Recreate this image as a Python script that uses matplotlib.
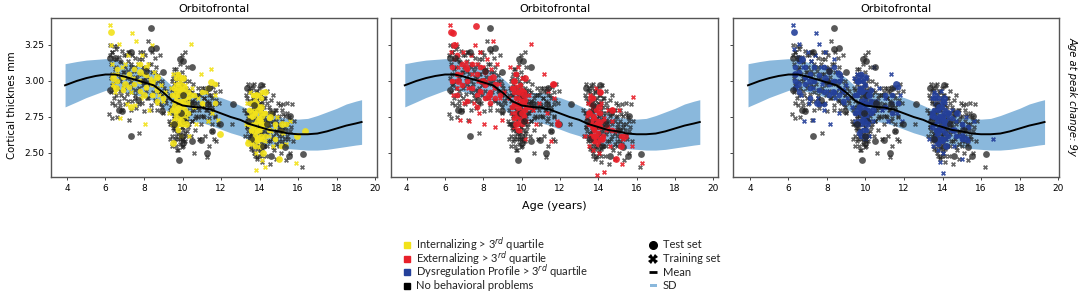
import matplotlib
matplotlib.use("Agg")
import matplotlib.pyplot as plt
from matplotlib.lines import Line2D
from matplotlib.patches import Rectangle

# normative curve
curve_age = [3.9, 4.5, 5, 5.5, 6, 6.5, 7, 7.5, 8, 8.5, 9, 9.5, 10, 10.5, 11, 11.5, 12, 12.5, 13, 13.5, 14, 14.5, 15, 15.5, 16, 16.5, 17, 17.5, 18, 18.5, 19, 19.3]
curve_mean = [2.97, 3.0, 3.02, 3.035, 3.045, 3.045, 3.03, 3.01, 2.99, 2.97, 2.92, 2.86, 2.83, 2.82, 2.815, 2.80, 2.775, 2.75, 2.73, 2.70, 2.68, 2.66, 2.65, 2.635, 2.63, 2.63, 2.635, 2.65, 2.67, 2.69, 2.705, 2.715]
curve_upper = [3.12, 3.135, 3.145, 3.15, 3.155, 3.15, 3.13, 3.11, 3.09, 3.07, 3.02, 2.96, 2.93, 2.92, 2.92, 2.90, 2.885, 2.86, 2.83, 2.80, 2.78, 2.765, 2.75, 2.74, 2.735, 2.74, 2.76, 2.785, 2.81, 2.84, 2.86, 2.87]
curve_lower = [2.82, 2.855, 2.885, 2.91, 2.935, 2.94, 2.925, 2.905, 2.885, 2.865, 2.81, 2.76, 2.73, 2.72, 2.71, 2.69, 2.665, 2.64, 2.62, 2.59, 2.57, 2.555, 2.54, 2.53, 2.525, 2.52, 2.52, 2.525, 2.535, 2.545, 2.555, 2.56]

train_age = [6.2, 6.22, 6.25, 6.28, 6.3, 6.3, 6.33, 6.36, 6.4, 6.42, 6.45, 6.48, 6.5, 6.55, 6.58, 6.6, 6.62, 6.65, 6.7, 6.72, 6.75, 6.78, 6.8, 6.85, 6.88, 6.9, 6.95, 7.0, 7.02, 7.05, 7.1, 7.12, 7.15, 7.2, 7.22, 7.25, 7.3, 7.35, 7.38, 7.4, 7.45, 7.5, 7.52, 7.55, 7.6, 7.65, 7.7, 7.72, 7.75, 7.8, 7.85, 7.9, 7.92, 7.95, 8.0, 8.02, 8.05, 8.1, 8.15, 8.2, 8.22, 8.25, 8.3, 8.35, 8.4, 8.42, 8.45, 8.5, 8.55, 8.6, 8.62, 8.65, 8.7, 8.75, 8.8, 8.85, 8.9, 8.92, 8.95, 9.0, 9.05, 9.1,
             9.25, 9.3, 9.35, 9.38, 9.4, 9.42, 9.45, 9.48, 9.5, 9.52, 9.55, 9.58, 9.6, 9.62, 9.65, 9.68, 9.7, 9.72, 9.75, 9.78, 9.8, 9.82, 9.85, 9.88, 9.9, 9.92, 9.95, 9.98, 10.0, 10.02, 10.05, 10.08, 10.1, 10.12, 10.15, 10.18, 10.2, 10.22, 10.25, 10.28, 10.3, 10.35, 10.38, 10.4, 10.45, 10.48, 10.5, 10.55, 10.6, 10.62, 10.65, 10.7, 10.72, 10.75, 10.8, 10.85, 10.88, 10.9, 10.95, 11.0, 11.02, 11.05, 11.1, 11.15, 11.18, 11.2, 11.25, 11.3, 11.32, 11.35, 11.4, 11.45, 11.5, 11.52, 11.55, 11.6, 11.65, 11.7, 11.72, 11.75, 11.8, 11.85, 11.9, 11.95, 9.6, 9.75, 9.9, 10.0, 10.1, 9.7, 9.85, 10.05,
             12.55, 13.2, 13.25, 13.3, 13.3, 13.35, 13.38, 13.4, 13.42, 13.45, 13.48, 13.5, 13.52, 13.55, 13.58, 13.6, 13.62, 13.65, 13.68, 13.7, 13.72, 13.75, 13.78, 13.8, 13.82, 13.85, 13.88, 13.9, 13.92, 13.95, 13.98, 14.0, 14.02, 14.05, 14.08, 14.1, 14.12, 14.15, 14.18, 14.2, 14.22, 14.25, 14.28, 14.3, 14.35, 14.38, 14.4, 14.45, 14.48, 14.5, 14.55, 14.6, 14.62, 14.65, 14.7, 14.72, 14.75, 14.8, 14.85, 14.88, 14.9, 14.95, 15.0, 15.02, 15.05, 15.1, 15.15, 15.2, 15.22, 15.25, 15.3, 15.35, 15.4, 15.45, 15.5, 15.55, 15.6, 15.65, 15.7, 15.75, 15.8, 16.2, 13.6, 13.75, 13.9, 14.05, 14.2, 13.7, 13.85, 14.0, 14.15, 14.3]
train_thick = [2.77, 3.18, 3.25, 3.02, 3.12, 2.92, 2.74, 3.2, 2.98, 3.24, 2.88, 3.08, 2.83, 3.15, 2.95, 3.24, 2.75, 3.05, 3.17, 2.86, 3.0, 3.13, 2.9, 3.21, 2.8, 3.06, 2.95, 3.1, 2.84, 3.18, 3.02, 2.91, 3.14, 3.2, 2.73, 3.05, 2.96, 3.1, 2.86, 3.18, 2.98, 3.07, 2.9, 3.16, 2.81, 3.02, 3.12, 2.93, 2.64, 3.2, 3.05, 2.85, 3.15, 2.97, 3.09, 2.79, 3.18, 2.93, 3.03, 3.28, 2.88, 3.12, 2.98, 2.83, 3.06, 3.2, 2.92, 3.0, 3.16, 2.86, 3.1, 2.95, 2.8, 3.04, 2.92, 3.18, 2.84, 3.0, 2.9, 2.78, 2.95, 2.87,
               2.88, 2.72, 2.6, 2.95, 2.7, 2.82, 2.55, 3.02, 2.67, 2.9, 2.76, 3.08, 2.6, 2.85, 2.96, 2.7, 2.52, 2.8, 3.05, 2.64, 2.9, 2.74, 3.12, 2.6, 2.84, 2.98, 2.68, 3.18, 2.78, 2.55, 2.92, 3.03, 2.72, 2.84, 3.2, 2.62, 2.95, 2.76, 3.1, 2.86, 2.68, 3.0, 2.78, 2.94, 2.62, 2.85, 2.72, 2.98, 2.8, 2.5, 2.66, 2.9, 2.76, 2.85, 2.95, 2.6, 2.8, 2.9, 2.7, 2.83, 2.95, 2.76, 2.88, 2.62, 2.93, 2.8, 2.47, 2.72, 2.95, 2.85, 2.55, 2.78, 2.9, 2.65, 2.82, 2.96, 2.6, 2.75, 2.87, 2.58, 2.98, 2.7, 2.85, 2.93, 2.67, 2.78, 2.96, 2.88, 2.75, 2.65, 2.85, 2.58, 2.7, 2.8, 2.62, 2.78, 2.9, 2.68,
               2.98, 2.74, 2.65, 2.85, 2.58, 2.95, 2.7, 2.8, 2.53, 2.97, 2.62, 2.88, 2.74, 2.5, 2.98, 2.66, 2.83, 2.57, 2.92, 2.72, 2.47, 2.8, 2.6, 2.95, 2.68, 2.85, 2.52, 2.76, 2.9, 2.63, 2.44, 2.83, 2.7, 2.97, 2.55, 2.78, 2.65, 2.88, 2.48, 2.73, 2.93, 2.58, 2.82, 2.68, 2.42, 2.76, 2.87, 2.6, 2.72, 2.9, 2.52, 2.8, 2.65, 2.46, 2.75, 2.85, 2.58, 2.7, 2.83, 2.5, 2.62, 2.77, 2.84, 2.56, 2.7, 2.45, 2.66, 2.85, 2.6, 2.75, 2.5, 2.68, 2.84, 2.58, 2.72, 2.4, 2.64, 2.8, 2.54, 2.68, 2.6, 2.78, 2.7, 2.63, 2.48, 2.72, 2.66, 2.78, 2.6, 2.55, 2.7, 2.58, 2.5, 2.75, 2.62, 2.68]
test_age = [6.25, 6.25, 6.5, 6.7, 6.85, 7.3, 7.3, 7.7, 8.0, 8.1, 8.35, 8.35, 8.6, 8.95, 9.0, 9.55, 9.8, 9.85, 9.9, 9.95, 10.0, 10.05, 10.05, 10.1, 10.5, 10.5, 10.55, 10.95, 11.25, 11.3, 11.4, 11.55, 11.95, 12.6, 13.35, 13.4, 13.55, 13.7, 14.1, 14.2, 14.4, 14.6, 14.65, 15.1, 15.3, 15.55, 15.6, 16.25]
test_thick = [2.94, 3.16, 3.16, 2.8, 2.79, 2.62, 3.2, 2.87, 3.0, 3.07, 3.22, 3.37, 3.23, 2.79, 3.06, 2.7, 2.45, 3.15, 2.78, 2.62, 2.57, 2.9, 3.14, 2.72, 2.58, 3.1, 2.85, 2.59, 2.5, 2.84, 2.95, 2.65, 2.7, 2.84, 2.95, 2.72, 2.6, 2.83, 2.97, 2.55, 2.7, 2.48, 2.78, 2.66, 2.54, 2.48, 2.76, 2.49]

# dense middles of the clouds, age: thicknesses
black_core = {
    6.35: [3.05, 2.97, 3.2, 2.85], 6.55: [3.1, 3.0, 2.9, 3.22], 6.75: [3.14, 3.02, 2.93, 2.83], 6.95: [3.18, 3.06, 2.97, 2.88],
    7.15: [3.07, 2.98, 2.86, 3.2], 7.35: [3.12, 3.0, 2.92, 2.8], 7.55: [3.1, 3.03, 2.94, 2.88], 7.75: [3.15, 3.05, 2.95, 2.84],
    7.95: [3.1, 3.01, 2.9, 3.2], 8.15: [3.08, 2.99, 2.88], 8.35: [3.12, 3.0, 2.9, 2.8], 8.55: [3.06, 2.97, 2.87],
    8.75: [3.0, 2.93, 2.85], 8.95: [2.97, 2.9, 2.82], 9.15: [2.93, 2.85],
    9.35: [2.7, 2.8, 2.9], 9.45: [2.62, 2.7, 2.78, 2.86, 2.94, 3.0], 9.55: [2.58, 2.66, 2.74, 2.82, 2.9, 2.98, 3.05],
    9.65: [2.55, 2.62, 2.7, 2.76, 2.84, 2.92, 3.0, 3.08], 9.75: [2.52, 2.6, 2.66, 2.72, 2.8, 2.88, 2.95, 3.03],
    9.85: [2.56, 2.63, 2.7, 2.78, 2.85, 2.92, 3.0], 9.95: [2.54, 2.6, 2.68, 2.74, 2.82, 2.9, 2.97, 3.06],
    10.05: [2.6, 2.66, 2.72, 2.8, 2.87, 2.94, 3.02], 10.15: [2.58, 2.64, 2.7, 2.77, 2.84, 2.92, 3.0],
    10.25: [2.65, 2.72, 2.8, 2.86, 2.93], 10.35: [2.7, 2.78, 2.84, 2.9], 10.5: [2.72, 2.8, 2.86, 2.92], 10.65: [2.74, 2.82, 2.88],
    10.8: [2.75, 2.82, 2.9], 10.95: [2.76, 2.84, 2.92], 11.1: [2.75, 2.82, 2.88, 2.95], 11.25: [2.8, 2.86, 2.92],
    11.4: [2.74, 2.82, 2.9], 11.55: [2.7, 2.8, 2.88], 11.7: [2.76, 2.84, 2.92],
    13.35: [2.68, 2.78, 2.88], 13.45: [2.62, 2.7, 2.78, 2.86, 2.93], 13.55: [2.55, 2.63, 2.7, 2.77, 2.84, 2.92],
    13.65: [2.52, 2.58, 2.66, 2.72, 2.8, 2.87, 2.95], 13.75: [2.48, 2.55, 2.62, 2.68, 2.75, 2.82, 2.9],
    13.85: [2.46, 2.53, 2.6, 2.66, 2.73, 2.8, 2.87, 2.93], 13.95: [2.48, 2.55, 2.62, 2.68, 2.74, 2.82, 2.88],
    14.05: [2.5, 2.57, 2.64, 2.7, 2.77, 2.84, 2.9], 14.15: [2.53, 2.6, 2.66, 2.73, 2.8, 2.86], 14.25: [2.55, 2.62, 2.68, 2.75, 2.82, 2.88],
    14.4: [2.55, 2.63, 2.7, 2.78, 2.85], 14.55: [2.58, 2.65, 2.72, 2.8], 14.7: [2.54, 2.62, 2.7, 2.78], 14.85: [2.56, 2.64, 2.72, 2.8],
    15.0: [2.55, 2.62, 2.68, 2.76], 15.15: [2.58, 2.66, 2.72, 2.8], 15.3: [2.6, 2.68, 2.76], 15.45: [2.62, 2.7, 2.78], 15.6: [2.65, 2.72],
}
yellow_core = {
    6.4: [3.04, 2.96], 6.6: [3.0, 3.08], 6.9: [2.94, 3.03], 7.2: [3.05, 2.96], 7.5: [2.98, 3.08], 7.8: [2.93, 3.0, 3.12],
    8.1: [3.04, 2.96, 3.1], 8.4: [2.98, 2.9], 8.7: [2.94, 2.86], 9.0: [2.88],
    9.45: [2.8, 2.9], 9.55: [2.72, 2.82, 2.95], 9.65: [2.7, 2.78, 2.86, 2.94, 3.02], 9.75: [2.66, 2.74, 2.82, 2.9, 2.98, 3.05],
    9.85: [2.7, 2.78, 2.86, 2.94, 3.03], 9.95: [2.74, 2.82, 2.9, 2.97], 10.05: [2.7, 2.78, 2.86, 2.93], 10.15: [2.8, 2.88, 2.95],
    10.3: [2.78, 2.85, 2.92], 10.6: [2.9], 11.0: [2.85, 2.92], 11.3: [2.95], 11.7: [2.98, 2.85],
    13.45: [2.7, 2.8], 13.55: [2.58, 2.66, 2.75, 2.85], 13.65: [2.6, 2.68, 2.76, 2.84, 2.9], 13.75: [2.55, 2.62, 2.7, 2.78, 2.86],
    13.85: [2.58, 2.65, 2.72, 2.8, 2.9], 13.95: [2.6, 2.66, 2.74, 2.82], 14.05: [2.55, 2.62, 2.7, 2.78, 2.88], 14.15: [2.6, 2.68, 2.76, 2.92],
    14.3: [2.62, 2.7, 2.78], 14.5: [2.66, 2.74], 14.8: [2.6, 2.7], 15.1: [2.65, 2.55], 15.4: [2.7],
}
red_core = {
    6.35: [3.0, 3.1], 6.6: [3.05, 3.18, 2.9], 6.9: [3.12, 2.97], 7.15: [3.0, 3.08, 2.86], 7.4: [3.12, 2.95], 7.65: [3.05, 2.9, 2.82],
    7.85: [3.1, 3.0, 2.93], 8.1: [3.06, 2.97, 2.88], 8.35: [3.02, 2.92, 2.85], 8.6: [2.98, 2.88], 8.85: [2.9],
    9.5: [2.82, 2.95], 9.6: [2.74, 2.84, 2.92, 3.0], 9.7: [2.7, 2.78, 2.88, 2.96, 3.05], 9.8: [2.66, 2.76, 2.84, 2.92],
    9.9: [2.72, 2.8, 2.88, 2.97], 10.0: [2.7, 2.78, 2.86, 2.94], 10.1: [2.76, 2.84, 2.92], 10.2: [2.8, 2.87], 10.4: [2.82], 11.7: [2.98],
    13.5: [2.78, 2.7], 13.6: [2.62, 2.72, 2.84], 13.7: [2.6, 2.68, 2.76, 2.88], 13.8: [2.58, 2.66, 2.74], 13.9: [2.62, 2.7, 2.8],
    14.0: [2.56, 2.64, 2.72], 14.1: [2.6, 2.68, 2.78, 2.92], 14.25: [2.62, 2.72], 14.45: [2.68], 14.7: [2.66, 2.8], 15.2: [2.62],
}
blue_core = {
    6.35: [3.0, 3.1, 2.95], 6.55: [3.06, 3.14, 2.92], 6.85: [3.1, 2.98, 3.03], 7.1: [3.05, 2.95, 2.88], 7.35: [3.1, 3.0], 7.6: [3.04, 2.94, 2.84],
    7.85: [3.1, 3.0, 2.92, 2.84], 8.1: [3.06, 2.98, 2.9], 8.35: [3.1, 3.0, 2.92], 8.6: [3.0, 2.9], 8.85: [2.94, 2.86],
    9.45: [2.78, 2.9], 9.55: [2.7, 2.8, 2.9, 3.0], 9.65: [2.64, 2.72, 2.82, 2.92, 3.03], 9.75: [2.62, 2.7, 2.78, 2.86, 2.95, 3.05],
    9.85: [2.66, 2.74, 2.84, 2.92, 3.0], 9.95: [2.62, 2.72, 2.8, 2.88, 2.97], 10.05: [2.66, 2.76, 2.84, 2.92], 10.15: [2.72, 2.8, 2.9],
    10.3: [2.78, 2.86, 2.94], 10.55: [2.85], 11.0: [2.82, 2.9], 11.4: [2.78, 2.9], 11.7: [2.85, 2.96],
    13.45: [2.68, 2.78], 13.55: [2.6, 2.7, 2.8, 2.88], 13.65: [2.58, 2.66, 2.74, 2.84], 13.75: [2.56, 2.64, 2.72, 2.8, 2.88],
    13.85: [2.6, 2.68, 2.76, 2.84], 13.95: [2.58, 2.66, 2.74, 2.82], 14.05: [2.6, 2.68, 2.76, 2.86], 14.15: [2.64, 2.72, 2.8],
    14.3: [2.62, 2.7, 2.78], 14.5: [2.66, 2.74], 14.7: [2.62, 2.78], 15.0: [2.6, 2.7], 15.3: [2.68],
}

# yellow subjects, first panel
yellow_train_age = [6.25, 6.3, 6.35, 6.4, 6.5, 6.6, 6.7, 6.75, 6.85, 6.9, 7.0, 7.1, 7.15, 7.3, 7.4, 7.45, 7.55, 7.6, 7.7, 7.75, 7.85, 7.9, 8.0, 8.05, 8.1, 8.2, 8.25, 8.3, 8.4, 8.45, 8.5, 8.6, 8.65, 8.7, 8.8, 8.9, 9.0, 9.1,
                    9.3, 9.4, 9.45, 9.5, 9.55, 9.6, 9.6, 9.65, 9.7, 9.7, 9.75, 9.8, 9.8, 9.85, 9.9, 9.9, 9.95, 10.0, 10.0, 10.05, 10.1, 10.1, 10.15, 10.2, 10.3, 10.35, 10.45, 10.5, 10.6, 10.7, 10.8, 10.95, 11.05, 11.2, 11.3, 11.35, 11.5, 11.55, 11.7, 11.85,
                    13.3, 13.35, 13.4, 13.45, 13.5, 13.55, 13.6, 13.6, 13.65, 13.7, 13.7, 13.75, 13.8, 13.8, 13.85, 13.9, 13.9, 13.95, 14.0, 14.0, 14.05, 14.1, 14.1, 14.15, 14.2, 14.25, 14.3, 14.4, 14.5, 14.6, 14.7, 14.8, 14.9, 15.0, 15.2, 15.4, 15.6, 15.9, 13.8, 14.3, 13.75, 14.6]
yellow_train_thick = [3.39, 3.25, 3.12, 2.98, 2.92, 3.05, 3.26, 2.74, 3.1, 2.95, 3.12, 2.84, 3.18, 2.92, 3.33, 3.02, 2.83, 3.28, 3.12, 3.0, 2.88, 3.18, 3.05, 2.7, 2.95, 3.12, 2.8, 3.02, 3.25, 2.9, 3.06, 2.95, 2.85, 3.02, 2.9, 2.97, 2.86, 2.92,
                      2.78, 2.95, 2.7, 3.05, 2.85, 2.75, 2.98, 2.88, 2.68, 3.05, 2.8, 2.93, 2.72, 3.0, 2.85, 2.62, 2.95, 2.78, 3.02, 2.9, 2.7, 2.83, 2.97, 2.75, 2.88, 2.62, 3.26, 2.95, 2.82, 2.7, 2.88, 3.05, 2.84, 2.92, 2.72, 2.95, 3.08, 2.78, 2.9, 2.73,
                      2.7, 2.85, 2.58, 2.75, 2.92, 2.65, 2.8, 2.56, 2.7, 2.9, 2.6, 2.78, 2.5, 2.68, 2.85, 2.62, 2.75, 2.54, 2.9, 2.66, 2.8, 2.6, 2.72, 2.45, 2.68, 2.78, 2.58, 2.7, 2.62, 2.78, 2.55, 2.68, 2.75, 2.46, 2.64, 2.56, 2.72, 2.43, 2.38, 2.4, 2.82, 2.65]
yellow_test_age = [6.3, 6.4, 6.55, 7.0, 7.3, 7.8, 8.0, 8.4, 8.7, 9.6, 9.7, 9.75, 9.9, 10.0, 10.05, 10.2, 10.4, 9.5, 11.5, 11.95, 13.4, 13.6, 13.7, 13.8, 13.9, 14.0, 14.1, 14.2, 14.3, 14.55, 15.0, 15.15, 15.95, 16.35]
yellow_test_thick = [3.34, 3.02, 2.95, 2.98, 2.82, 3.06, 2.9, 3.0, 3.03, 2.9, 2.8, 2.95, 2.72, 3.02, 2.83, 2.7, 2.9, 2.57, 2.99, 2.63, 2.57, 2.78, 2.65, 2.9, 2.6, 2.72, 2.82, 2.5, 2.92, 2.75, 2.46, 2.7, 2.62, 2.65]

# red subjects, second panel
red_train_age = [6.25, 6.3, 6.35, 6.4, 6.45, 6.55, 6.6, 6.7, 6.8, 6.85, 6.95, 7.0, 7.1, 7.2, 7.25, 7.35, 7.4, 7.5, 7.55, 7.65, 7.7, 7.75, 7.85, 7.9, 8.0, 8.05, 8.15, 8.2, 8.3, 8.4, 8.5, 8.55, 8.6, 8.7, 8.8, 8.85, 9.0, 9.1,
                 9.35, 9.4, 9.5, 9.55, 9.6, 9.65, 9.7, 9.75, 9.8, 9.85, 9.9, 9.95, 10.0, 10.05, 10.1, 10.15, 10.2, 10.25, 10.4, 10.5, 10.6, 10.75, 10.9, 11.15, 11.3, 11.35, 11.55, 11.6, 11.7, 11.85,
                 13.3, 13.4, 13.45, 13.5, 13.55, 13.6, 13.65, 13.7, 13.75, 13.8, 13.85, 13.9, 13.95, 14.0, 14.05, 14.1, 14.15, 14.2, 14.3, 14.4, 14.5, 14.6, 14.7, 14.85, 15.0, 15.1, 15.25, 15.3, 15.75, 15.8, 13.95, 14.3, 16.3]
red_train_thick = [3.39, 3.2, 3.0, 2.9, 3.15, 3.26, 2.95, 3.1, 2.73, 3.05, 3.2, 2.85, 3.13, 2.95, 2.72, 3.18, 3.05, 2.85, 3.25, 3.12, 3.0, 2.78, 3.2, 2.92, 3.1, 2.7, 3.0, 3.15, 2.88, 3.08, 3.28, 2.95, 2.68, 3.12, 2.98, 2.88, 2.73, 2.92,
                   2.88, 3.1, 2.78, 2.95, 2.68, 3.05, 2.85, 2.75, 3.1, 2.92, 2.65, 2.85, 3.02, 2.75, 2.92, 2.6, 2.82, 2.72, 2.9, 3.26, 2.8, 2.7, 2.85, 3.05, 2.78, 2.93, 2.58, 2.97, 2.88, 2.72,
                   2.62, 2.75, 2.85, 2.55, 2.9, 2.7, 2.62, 2.82, 2.52, 2.75, 2.66, 2.95, 2.58, 2.78, 2.5, 2.7, 2.85, 2.6, 2.74, 2.66, 2.8, 2.55, 2.72, 2.46, 2.65, 2.8, 2.42, 2.6, 2.55, 2.89, 2.35, 2.37, 2.43]
red_test_age = [6.3, 6.4, 6.45, 6.7, 7.6, 7.1, 8.0, 8.3, 8.5, 9.6, 9.8, 9.9, 10.0, 10.1, 9.7, 10.2, 11.65, 11.9, 13.5, 13.6, 13.8, 14.0, 14.1, 14.2, 14.05, 14.7, 14.95, 15.2, 15.4, 13.7]
red_test_thick = [3.34, 3.33, 3.25, 3.0, 3.38, 3.1, 3.0, 2.9, 3.03, 3.0, 2.82, 2.92, 2.78, 2.9, 2.7, 3.02, 2.98, 2.7, 2.78, 2.88, 2.62, 2.7, 2.92, 2.6, 2.82, 2.8, 2.46, 2.55, 2.62, 2.68]

# blue subjects, third panel
blue_train_age = [6.25, 6.3, 6.35, 6.4, 6.5, 6.55, 6.65, 6.75, 6.8, 6.9, 7.0, 7.05, 7.15, 7.25, 7.3, 7.4, 7.45, 7.55, 7.6, 7.7, 7.75, 7.85, 7.9, 8.0, 8.1, 8.15, 8.25, 8.35, 8.4, 8.5, 8.6, 8.65, 8.75, 8.85, 8.9, 9.0, 9.05,
                  9.3, 9.4, 9.45, 9.5, 9.55, 9.6, 9.65, 9.7, 9.75, 9.8, 9.85, 9.9, 9.95, 10.0, 10.05, 10.1, 10.15, 10.2, 10.3, 10.4, 10.45, 10.55, 10.7, 10.85, 11.0, 11.15, 11.35, 11.4, 11.5, 11.65, 11.8, 11.9,
                  13.3, 13.4, 13.45, 13.5, 13.55, 13.6, 13.65, 13.7, 13.75, 13.8, 13.85, 13.9, 13.95, 14.0, 14.05, 14.1, 14.15, 14.2, 14.3, 14.4, 14.5, 14.6, 14.7, 14.8, 15.0, 15.05, 15.2, 15.3, 14.0, 13.85, 16.6, 15.65]
blue_train_thick = [3.39, 3.22, 3.05, 2.95, 3.17, 3.26, 2.9, 3.1, 2.72, 3.02, 3.2, 2.85, 3.14, 2.95, 2.73, 3.18, 3.33, 2.88, 3.26, 3.1, 2.98, 2.8, 3.2, 2.93, 3.08, 2.7, 3.0, 3.15, 2.88, 3.06, 2.95, 2.78, 3.02, 2.92, 2.85, 2.97, 2.88,
                    2.82, 3.02, 2.72, 2.9, 3.05, 2.78, 2.95, 2.65, 3.0, 2.85, 2.72, 2.92, 2.6, 2.82, 3.02, 2.75, 2.9, 2.62, 2.85, 2.72, 3.1, 2.86, 2.95, 2.8, 2.88, 2.72, 3.05, 2.85, 2.95, 2.78, 2.9, 2.72,
                    2.6, 2.75, 2.88, 2.55, 2.92, 2.7, 2.62, 2.82, 2.52, 2.76, 2.66, 2.93, 2.58, 2.78, 2.5, 2.7, 2.85, 2.6, 2.74, 2.66, 2.8, 2.55, 2.72, 2.62, 2.46, 2.68, 2.75, 2.58, 2.36, 2.44, 2.6, 2.72]
blue_test_age = [6.3, 6.35, 6.5, 6.7, 7.1, 7.5, 7.9, 8.3, 8.6, 9.6, 9.7, 9.8, 9.9, 10.0, 10.05, 10.1, 10.2, 10.4, 11.6, 13.5, 13.6, 13.7, 13.8, 13.9, 14.0, 14.1, 14.2, 14.3, 14.6, 14.75, 15.0, 15.2]
blue_test_thick = [3.34, 3.05, 2.98, 3.15, 3.0, 2.85, 3.02, 2.92, 3.05, 3.0, 2.82, 2.93, 2.72, 3.03, 2.84, 2.7, 2.9, 2.8, 2.98, 2.76, 2.9, 2.65, 2.82, 2.6, 2.72, 2.88, 2.55, 2.78, 2.66, 2.78, 2.62, 2.6]

left_labels = [
    r"Internalizing > 3$^{rd}$ quartile",
    r"Externalizing > 3$^{rd}$ quartile",
    r"Dysregulation Profile > 3$^{rd}$ quartile",
    "No behavioral problems",
]
right_labels = ["Test set", "Training set", "Mean", "SD"]

YELLOW = "#f2e21a"
RED = "#e8202a"
BLUE = "#24409a"
BAND = "#8ab8dc"
W, H = 1084, 296


def points(ages, thick):
    # hand-read lists can end up a few long on one side
    n = min(len(ages), len(thick))
    return ages[:n], thick[:n]


def columns(core):
    ages = [age for age, vals in core.items() for _ in vals]
    thick = [v for vals in core.values() for v in vals]
    return ages, thick


def draw_panel(ax, color, c_train, c_test, c_core):
    ax.fill_between(curve_age, curve_lower, curve_upper, color=BAND, lw=0, zorder=1)
    ax.scatter(*points(train_age, train_thick), marker="X", s=13, color="#222222", alpha=0.7, lw=0, zorder=2)
    ax.scatter(*columns(black_core), marker="X", s=13, color="#222222", alpha=0.7, lw=0, zorder=2)
    ax.scatter(*points(*c_train), marker="X", s=13, color=color, alpha=0.9, lw=0, zorder=3)
    ax.scatter(*columns(c_core), marker="o", s=17, color=color, alpha=0.9, lw=0, zorder=3)
    ax.scatter(*points(test_age, test_thick), marker="o", s=24, color="#222222", alpha=0.75, lw=0, zorder=3)
    ax.scatter(*points(*c_test), marker="o", s=24, color=color, alpha=0.9, lw=0, zorder=4)
    ax.plot(curve_age, curve_mean, color="black", lw=1.4, zorder=5)
    ax.set_title("Orbitofrontal", fontsize=8, pad=4)
    ax.set_ylim(2.333, 3.4375)
    ax.set_xticks(range(4, 21, 2))
    ax.set_yticks([2.5, 2.75, 3.0, 3.25])
    ax.set_yticklabels([])
    ax.tick_params(labelsize=6.5, length=2, width=0.7, color="#444444", pad=3)
    for s in ax.spines.values():
        s.set_color("#555555")
        s.set_linewidth(1.0)


def panel_axes(fig, left, right):
    top, bottom = 18, 177
    return fig.add_axes([left / W, 1 - bottom / H, (right - left) / W, (bottom - top) / H])


def fig_xy(px, py):
    return px / W, 1 - py / H


def legend_marker(fig, px, py, **kw):
    x, y = fig_xy(px, py)
    fig.add_artist(Line2D([x], [y], ls="", transform=fig.transFigure, **kw))


def draw_legend(fig):
    font = {"family": "Lato", "size": 8, "va": "center", "color": "#222222"}
    rows = [245, 258.5, 272, 285.5]
    for py, label in zip(rows, left_labels):
        fig.text(*fig_xy(416, py), label, **font)
    for py, label in zip(rows, right_labels):
        fig.text(*fig_xy(663, py), label, **font)
    for py, c in zip(rows, [YELLOW, RED, BLUE, "black"]):
        legend_marker(fig, 407, py, marker="s", ms=5, color=c)
    legend_marker(fig, 653, rows[0], marker="o", ms=5.5, color="black")
    legend_marker(fig, 653, rows[1], marker="X", ms=7, color="black", mew=0)
    legend_marker(fig, 653, rows[2], marker="_", ms=6, mew=2, color="black")
    x, y = fig_xy(649.5, rows[3] + 1.5)
    fig.add_artist(Rectangle((x, y), 7 / W, 3.5 / H, transform=fig.transFigure, color=BAND, lw=0))


def main():
    fig = plt.figure(figsize=(W / 100, H / 100), dpi=100)

    ax1 = panel_axes(fig, 51, 377)
    draw_panel(ax1, YELLOW, (yellow_train_age, yellow_train_thick), (yellow_test_age, yellow_test_thick), yellow_core)
    ax1.set_xlim(3.17, 20.1)
    ax1.set_yticklabels(["2.50", "2.75", "3.00", "3.25"])
    ax1.set_ylabel("Cortical thicknes mm", fontsize=7.3, labelpad=5, y=0.453)

    ax2 = panel_axes(fig, 391, 718)
    draw_panel(ax2, RED, (red_train_age, red_train_thick), (red_test_age, red_test_thick), red_core)
    ax2.set_xlim(3.18, 20.25)
    ax2.set_xlabel("Age (years)", fontsize=8, labelpad=5.5)

    ax3 = panel_axes(fig, 733, 1059)
    draw_panel(ax3, BLUE, (blue_train_age, blue_train_thick), (blue_test_age, blue_test_thick), blue_core)
    ax3.set_xlim(3.12, 20.05)

    fig.text(1073 / W, 1 - 96 / H, "Age at peak change: 9y", rotation=270, style="italic",
             fontsize=7.2, ha="center", va="center")
    draw_legend(fig)

    fig.savefig("out.png", dpi=100)
    plt.close(fig)


if __name__ == "__main__":
    main()
